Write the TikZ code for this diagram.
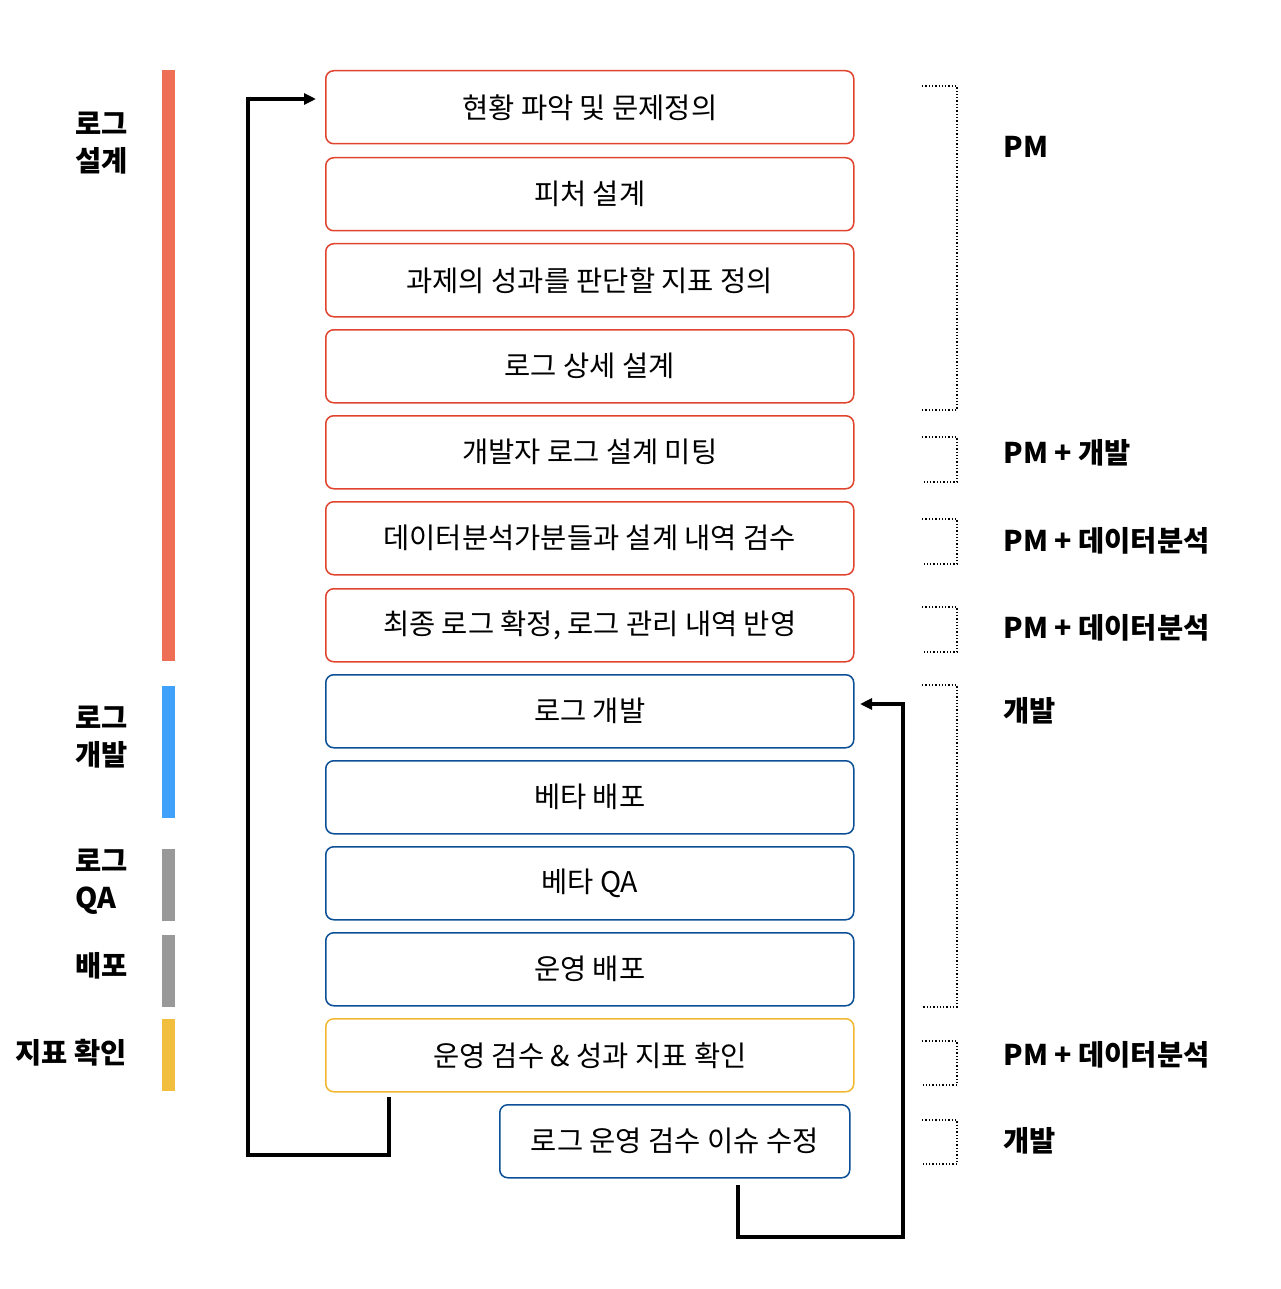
\documentclass[tikz,border=0pt]{standalone}
\usepackage{fontspec}
\setmainfont{Noto Sans CJK KR}
\usetikzlibrary{arrows.meta}
\definecolor{rbox}{HTML}{E0442F}
\definecolor{bbox}{HTML}{0B4F96}
\definecolor{ybox}{HTML}{F2B731}
\definecolor{barR}{HTML}{EE6E56}
\definecolor{barB}{HTML}{3FA1F9}
\definecolor{barG}{HTML}{999999}
\definecolor{barY}{HTML}{F2BE3E}
\tikzset{
 stepbox/.style={draw, rounded corners=8pt, line width=1.5pt, minimum height=73pt, inner sep=0pt, font=\fontsize{28.5}{32}\selectfont},
 lab/.style={font=\fontsize{28.5}{37}\selectfont\bfseries, align=left, anchor=west},
 brk/.style={dotted, line width=1.3pt},
 flow/.style={line width=3.2pt, -{Triangle[length=12pt,width=11pt]}},
}
\begin{document}
\begin{tikzpicture}[x=1pt,y=-1pt]
\useasboundingbox (0,0) rectangle (1280,1289);
% boxes
\foreach \n/\t/\yy/\c in {b1/현황 파악 및 문제정의/70/rbox, b2/피처 설계/157/rbox, b3/과제의 성과를 판단할 지표 정의/243/rbox, b4/로그 상세 설계/329/rbox, b5/개발자 로그 설계 미팅/415/rbox, b6/데이터분석가분들과 설계 내역 검수/501/rbox, b7/{최종 로그 확정, 로그 관리 내역 반영}/588/rbox, b8/로그 개발/674/bbox, b9/베타 배포/760/bbox, b10/베타 QA/846/bbox, b11/운영 배포/932/bbox, b12/운영 검수 \& 성과 지표 확인/1018/ybox}
  \node[stepbox, draw=\c, minimum width=528pt, anchor=north west] (\n) at (325,\yy) {\t};
\node[stepbox, draw=bbox, minimum width=350pt, anchor=north west] (b13) at (499,1104) {로그 운영 검수 이슈 수정};
% bars
\fill[barR] (162,70) rectangle (175,661);
\fill[barB] (162,686) rectangle (175,818);
\fill[barG] (162,849) rectangle (175,921);
\fill[barG] (162,935) rectangle (175,1007);
\fill[barY] (162,1019) rectangle (175,1091);
\node[lab] (l1) at (72,143) {로그\\설계};
\node[lab] (l2) at (72,737) {로그\\개발};
\node[lab] (l3) at (72,882) {로그\\QA};
\node[lab] (l4) at (72,966) {배포};
\node[lab, anchor=east] (l5) at (130,1053) {지표 확인};
% brackets
\foreach \a/\b in {86/410, 437/482, 519/564, 607/652, 685/1007, 1041/1085, 1120/1164}
  \draw[brk] (922,\a) -- (957,\a) -- (957,\b) -- (922,\b);
\node[lab] (r1) at (1000,147) {PM};
\node[lab] (r2) at (1000,453) {PM + 개발};
\node[lab] (r3) at (1000,541) {PM + 데이터분석};
\node[lab] (r4) at (1000,628) {PM + 데이터분석};
\node[lab] (r5) at (1000,711) {개발};
\node[lab] (r6) at (1000,1055) {PM + 데이터분석};
\node[lab] (r7) at (1000,1141) {개발};
% flows
\coordinate (s1) at (389,1097);
\coordinate (e1) at (316,99);
\coordinate (s2) at (738,1185);
\coordinate (e2) at (860,704);
\draw[flow] (s1) -- (389,1155) -| (248,99) -- (e1);
\draw[flow] (s2) -- (738,1237) -| (903,704) -- (e2);
\end{tikzpicture}
\end{document}
